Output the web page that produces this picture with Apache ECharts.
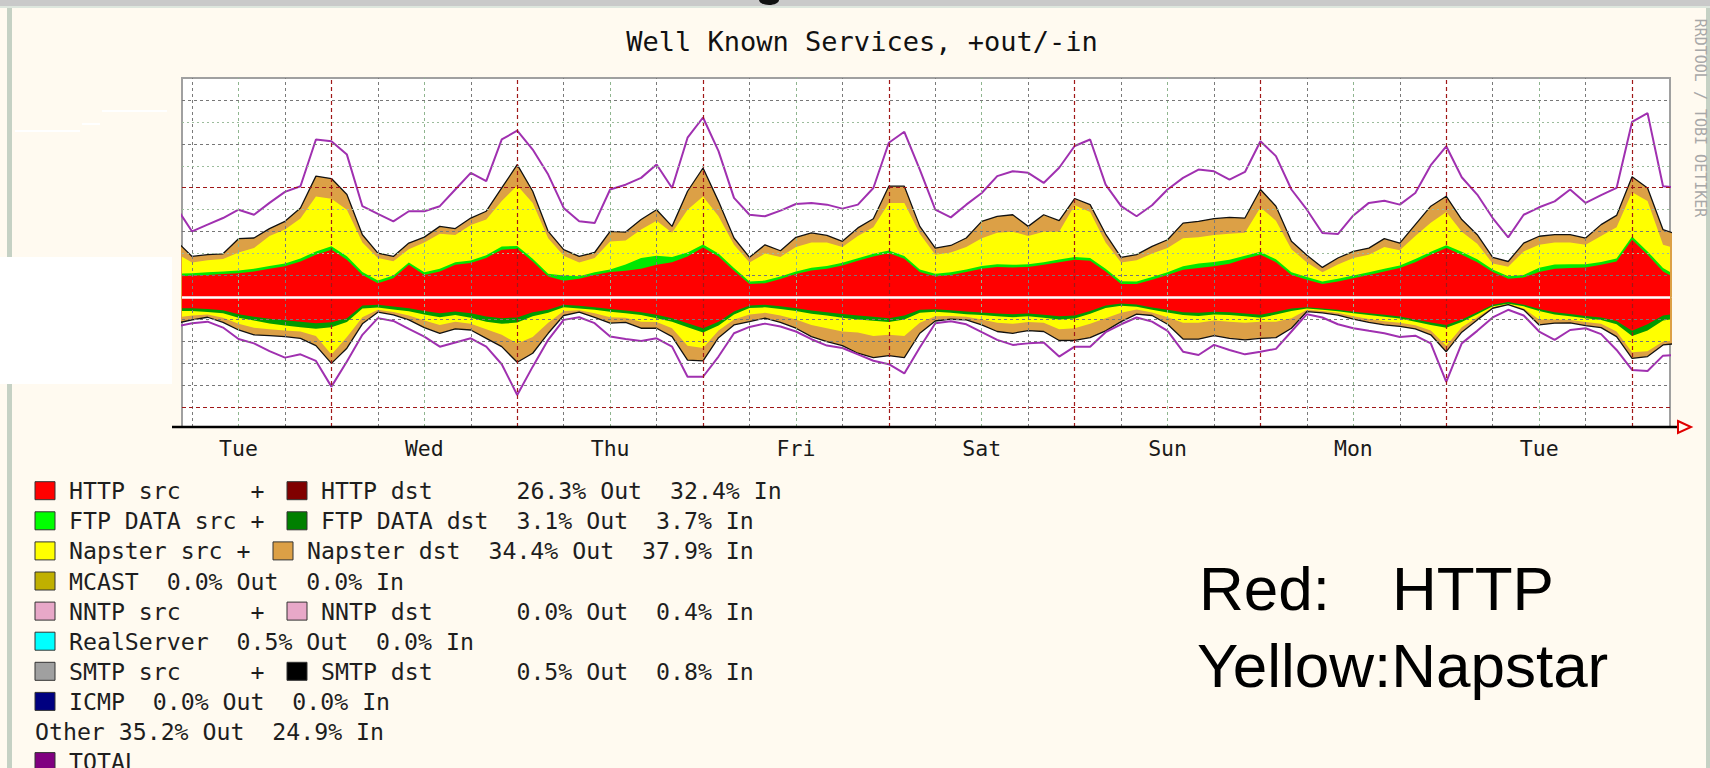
<!DOCTYPE html>
<html><head><meta charset="utf-8">
<script src="https://cdn.jsdelivr.net/npm/echarts@6/dist/echarts.min.js"></script>
<style>html,body{margin:0;padding:0;background:#fffaf0;}#c{width:1710px;height:768px;}</style>
</head><body><div id="c"></div>
<script>
// time axis: hours since Tue 00:00
const hours = [4,6,8,10,12,14,16,18,20,22,24,26,28,30,32,34,36,38,40,42,44,46,48,50,52,
54,56,58,60,62,64,66,68,70,72,74,76,78,80,82,84,86,88,90,92,94,96,98,100,
102,104,106,108,110,112,114,116,118,120,122,124,126,128,130,132,134,136,138,140,142,144,146,148,
150,152,154,156,158,160,162,164,166,168,170,172,174,176,178,180,182,184,186,188,190,192,194,196,198];

// OUT (+) boundaries of the stacked layers
const outRed = [0.96,0.99,1.03,1.07,1.11,1.19,1.31,1.42,1.64,1.95,2.18,1.72,1.03,0.65,0.88,1.49,1.03,1.19,1.49,1.57,1.80,2.18,2.22,1.64,0.96,
0.76,0.85,1.03,1.16,1.22,1.31,1.49,1.61,1.87,2.28,1.87,1.22,0.61,0.65,0.84,1.07,1.23,1.31,1.46,1.67,1.87,2.02,1.77,1.16,
0.96,1.03,1.16,1.31,1.39,1.37,1.39,1.49,1.61,1.72,1.67,1.19,0.62,0.61,0.81,1.03,1.26,1.34,1.42,1.54,1.77,1.95,1.61,1.03,
0.81,0.61,0.73,0.88,1.03,1.19,1.34,1.61,1.95,2.25,1.95,1.61,1.16,0.85,0.91,1.16,1.31,1.34,1.37,1.49,1.64,2.63,1.95,1.19,0.81];
const outFtp = [1.08,1.11,1.15,1.19,1.23,1.31,1.44,1.55,1.78,2.10,2.34,1.88,1.16,0.78,1.00,1.60,1.15,1.31,1.61,1.69,1.93,2.32,2.35,1.77,1.08,
1.00,0.97,1.15,1.28,1.50,1.80,1.90,1.85,2.05,2.42,2.00,1.34,0.73,0.77,0.96,1.19,1.35,1.44,1.58,1.79,1.99,2.14,1.89,1.28,
1.08,1.15,1.28,1.43,1.51,1.49,1.51,1.61,1.73,1.85,1.80,1.31,0.74,0.73,0.93,1.15,1.42,1.55,1.62,1.72,1.90,2.08,1.74,1.15,
0.93,0.73,0.85,1.00,1.15,1.31,1.46,1.75,2.08,2.38,2.08,1.74,1.28,0.97,1.03,1.36,1.50,1.52,1.52,1.62,1.78,2.78,2.10,1.34,0.95];
const outNapSrc = [2.00,1.60,1.70,1.75,2.05,2.25,2.80,3.10,3.60,4.60,4.50,4.00,2.50,1.80,1.65,2.20,2.50,2.90,2.85,3.30,3.55,4.40,5.10,4.30,2.70,
1.90,1.60,1.80,2.55,2.60,3.10,3.50,2.95,4.00,4.60,3.70,2.40,1.60,2.00,1.85,2.30,2.50,2.50,2.30,2.80,3.20,4.30,4.30,2.90,
1.95,2.05,2.30,2.70,2.95,3.00,2.80,3.00,3.00,4.20,3.90,2.50,1.60,1.70,2.00,2.25,2.70,2.75,2.85,2.90,2.95,4.10,3.50,2.20,
1.60,1.15,1.50,1.80,1.95,2.30,2.15,2.80,3.40,3.90,3.00,2.45,1.55,1.40,2.10,2.40,2.50,2.50,2.40,2.80,3.20,4.80,4.40,2.40,2.20];
const outNapDst = [2.56,1.87,1.95,1.99,2.68,2.71,3.14,3.47,4.08,5.53,5.42,4.69,2.86,2.02,1.87,2.48,2.75,3.24,3.14,3.62,3.93,4.99,6.05,4.84,3.01,
2.18,1.87,2.05,3.01,2.98,3.55,4.00,3.24,4.84,5.90,4.38,2.71,1.83,2.40,2.13,2.74,2.94,2.83,2.56,3.17,3.59,5.07,5.07,3.24,
2.25,2.37,2.71,3.47,3.70,3.77,3.24,3.77,3.50,4.51,4.23,2.89,1.83,1.95,2.33,2.63,3.39,3.47,3.59,3.65,3.62,4.92,4.16,2.56,
1.92,1.37,1.80,2.10,2.25,2.68,2.48,3.32,4.16,4.61,3.55,2.86,1.83,1.64,2.48,2.79,2.86,2.86,2.71,3.32,3.74,5.50,4.99,3.09,2.86];
const outTotal = [4.08,3.01,3.32,3.62,4.00,3.77,4.31,4.81,5.07,7.20,7.12,6.51,4.16,3.81,3.47,3.93,3.93,4.16,4.92,5.68,5.30,7.20,7.60,6.74,5.60,
4.08,3.47,3.39,4.92,5.14,5.45,6.06,4.99,7.28,8.20,6.67,4.54,3.77,3.70,3.96,4.26,4.31,4.23,4.05,4.23,4.99,7.05,7.55,5.83,
4.00,3.65,4.23,4.76,5.53,5.75,5.68,5.22,5.91,6.90,7.20,5.14,4.16,3.70,4.20,4.92,5.45,5.83,5.75,5.37,5.72,7.12,6.44,4.92,
4.00,2.94,2.89,3.74,4.31,4.41,4.23,4.76,6.03,6.89,5.48,4.69,3.62,2.74,3.77,4.11,4.38,4.92,4.31,4.66,4.99,8.00,8.40,5.07,4.99];

// IN (-) boundaries
const inRed = [-0.49,-0.49,-0.52,-0.58,-0.76,-0.88,-0.97,-1.04,-1.10,-1.17,-1.13,-0.94,-0.37,-0.33,-0.41,-0.49,-0.61,-0.72,-0.64,-0.72,-0.87,-0.94,-0.91,-0.67,-0.56,
-0.33,-0.38,-0.44,-0.52,-0.59,-0.67,-0.79,-0.94,-1.17,-1.40,-1.10,-0.64,-0.37,-0.33,-0.40,-0.49,-0.59,-0.67,-0.75,-0.82,-0.88,-0.94,-0.82,-0.56,
-0.53,-0.58,-0.64,-0.68,-0.73,-0.76,-0.73,-0.79,-0.85,-0.82,-0.61,-0.37,-0.27,-0.32,-0.46,-0.56,-0.67,-0.70,-0.65,-0.67,-0.73,-0.79,-0.65,-0.50,
-0.45,-0.50,-0.56,-0.65,-0.72,-0.79,-0.87,-1.00,-1.14,-1.25,-1.00,-0.67,-0.33,-0.21,-0.33,-0.52,-0.67,-0.75,-0.84,-0.91,-1.07,-1.52,-1.22,-0.82,-0.72];
const inFtp = [-0.62,-0.62,-0.66,-0.72,-0.92,-1.05,-1.18,-1.28,-1.35,-1.42,-1.36,-1.12,-0.50,-0.46,-0.55,-0.63,-0.77,-0.90,-0.80,-0.92,-1.10,-1.20,-1.14,-0.85,-0.70,
-0.45,-0.50,-0.56,-0.65,-0.72,-0.80,-0.95,-1.10,-1.35,-1.60,-1.28,-0.78,-0.48,-0.45,-0.52,-0.62,-0.74,-0.82,-0.92,-1.00,-1.06,-1.12,-1.00,-0.70,
-0.65,-0.70,-0.76,-0.80,-0.86,-0.90,-0.86,-0.92,-1.00,-0.96,-0.74,-0.48,-0.38,-0.42,-0.56,-0.68,-0.80,-0.84,-0.78,-0.80,-0.86,-0.92,-0.78,-0.62,
-0.50,-0.56,-0.63,-0.72,-0.80,-0.88,-0.96,-1.10,-1.25,-1.38,-1.12,-0.76,-0.40,-0.28,-0.40,-0.62,-0.78,-0.86,-0.95,-1.02,-1.22,-1.75,-1.50,-1.05,-0.95];
const inNapSrc = [-0.90,-0.82,-0.78,-0.92,-1.20,-1.38,-1.45,-1.50,-1.55,-1.75,-2.60,-1.80,-0.90,-0.56,-0.66,-0.82,-1.05,-1.25,-1.10,-1.20,-1.45,-1.70,-2.10,-1.80,-1.15,
-0.62,-0.58,-0.72,-0.90,-0.92,-1.10,-1.12,-1.40,-2.20,-2.30,-1.50,-1.00,-0.78,-0.70,-0.82,-1.00,-1.25,-1.40,-1.55,-1.60,-1.75,-1.70,-1.75,-1.15,
-0.85,-0.84,-0.88,-1.00,-1.15,-1.20,-1.12,-1.15,-1.45,-1.40,-1.20,-0.95,-0.70,-0.55,-0.68,-0.90,-1.15,-1.15,-1.05,-1.10,-1.15,-1.10,-1.10,-0.95,
-0.56,-0.62,-0.70,-0.86,-0.98,-1.08,-1.15,-1.27,-1.50,-2.20,-1.35,-0.90,-0.45,-0.31,-0.50,-1.00,-1.00,-1.02,-1.12,-1.20,-1.55,-2.50,-2.45,-2.00,-1.95];
const inNapDst = [-1.17,-1.02,-0.90,-1.13,-1.48,-1.70,-1.74,-1.78,-1.86,-2.19,-3.00,-2.31,-1.20,-0.67,-0.79,-1.02,-1.37,-1.63,-1.43,-1.48,-1.86,-2.24,-2.95,-2.54,-1.63,
-0.82,-0.67,-0.91,-1.17,-1.13,-1.40,-1.40,-1.78,-2.85,-2.89,-1.83,-1.25,-1.10,-0.94,-1.13,-1.40,-1.78,-2.01,-2.19,-2.54,-2.74,-2.65,-2.74,-1.63,
-1.07,-0.99,-1.02,-1.25,-1.55,-1.63,-1.51,-1.55,-1.96,-1.95,-1.83,-1.52,-1.10,-0.76,-0.82,-1.22,-1.89,-1.90,-1.74,-1.86,-1.93,-1.86,-1.83,-1.40,
-0.64,-0.70,-0.80,-0.99,-1.13,-1.25,-1.32,-1.43,-1.70,-2.47,-1.58,-1.02,-0.49,-0.33,-0.56,-1.25,-1.17,-1.16,-1.28,-1.37,-1.78,-2.77,-2.69,-2.16,-2.09];
const inTotal = [-1.32,-1.17,-1.10,-1.37,-1.89,-2.09,-2.44,-2.74,-2.59,-2.89,-4.06,-2.92,-1.70,-0.94,-1.07,-1.43,-1.78,-2.24,-2.05,-1.86,-2.24,-3.04,-4.44,-3.15,-1.93,
-1.02,-0.90,-1.17,-1.78,-1.89,-1.98,-1.86,-2.24,-3.61,-3.61,-2.69,-1.63,-1.34,-1.19,-1.32,-1.55,-1.90,-2.19,-2.30,-2.59,-2.88,-3.04,-3.46,-2.28,
-1.17,-1.08,-1.22,-1.58,-1.93,-2.16,-2.09,-2.05,-2.69,-2.24,-2.24,-1.58,-1.22,-0.91,-1.10,-1.52,-2.47,-2.62,-2.16,-2.39,-2.59,-2.47,-2.34,-1.55,
-0.76,-0.91,-1.22,-1.40,-1.52,-1.63,-1.80,-1.74,-2.09,-3.84,-2.09,-1.52,-0.91,-0.56,-0.82,-1.55,-1.93,-1.48,-1.40,-1.67,-2.39,-3.30,-3.35,-2.65,-2.62];

// axis ticks / labels
const dayLabels = ['Tue','Wed','Thu','Fri','Sat','Sun','Mon','Tue'];
const noonHours = [12,36,60,84,108,132,156,180];
const midnightHours = [24,48,72,96,120,144,168,192];
const quarterHours = [6,18,30,42,54,66,78,90,102,114,126,138,150,162,174,186];
const redLevels = [-5,5];
const darkLevels = [-4,-3,-2,-1,1,3,7,9];
const lightLevels = [2,4,6,8];

// legend text
const legendRows = [
  ['HTTP src     +','HTTP dst      26.3% Out  32.4% In'],
  ['FTP DATA src +','FTP DATA dst  3.1% Out  3.7% In'],
  ['Napster src +','Napster dst  34.4% Out  37.9% In'],
  ['MCAST  0.0% Out  0.0% In'],
  ['NNTP src     +','NNTP dst      0.0% Out  0.4% In'],
  ['RealServer  0.5% Out  0.0% In'],
  ['SMTP src     +','SMTP dst      0.5% Out  0.8% In'],
  ['ICMP  0.0% Out  0.0% In'],
  ['Other 35.2% Out  24.9% In'],
  ['TOTAL']
];
const legendColors = [['#ff0000','#800000'],['#00ff00','#008000'],['#ffff00','#dca046'],['#c0b000'],
  ['#e8a8c8','#e8a8c8'],['#00ffff'],['#a0a0a0','#000000'],['#000080'],[],['#800080']];

const MONO = '"DejaVu Sans Mono", "Liberation Mono", monospace';
const chart = echarts.init(document.getElementById('c'), null, {renderer:'svg', width:1710, height:768});

function pts(arr){ return hours.map((h,i)=>[h, arr[i]]); }
function area(name, arr, color, edge){
  return {type:'line', name, data:pts(arr), symbol:'none', showSymbol:false, silent:true, z:2,
    lineStyle: edge ? {color:'#111', width:1.3} : {width:0, opacity:0},
    areaStyle:{color, opacity:1}};
}
function totalLine(name, arr){
  return {type:'line', name, data:pts(arr), symbol:'none', showSymbol:false, silent:true, z:4,
    lineStyle:{color:'#a030b0', width:2}};
}

const gridLines = [];
quarterHours.forEach(h=>gridLines.push({xAxis:h, lineStyle:{color:'#7a7a7a', type:[3,3], width:1}}));
noonHours.forEach(h=>gridLines.push({xAxis:h, lineStyle:{color:'#8fb58f', type:[3,3], width:1}}));
midnightHours.forEach(h=>gridLines.push({xAxis:h, lineStyle:{color:'#a01818', type:[4,3], width:1.2}}));
darkLevels.forEach(v=>gridLines.push({yAxis:v, lineStyle:{color:'#777777', type:[3,3], width:1}}));
lightLevels.forEach(v=>gridLines.push({yAxis:v, lineStyle:{color:'#9cbc9c', type:[2,3], width:1}}));
redLevels.forEach(v=>gridLines.push({yAxis:v, lineStyle:{color:'#a01818', type:[4,3], width:1.2}}));
gridLines.push({yAxis:0, lineStyle:{color:'#ffffff', type:'solid', width:2.5}});

const els = [];
// frame / decorations
els.push({type:'rect', shape:{x:0,y:0,width:1710,height:6}, style:{fill:'#c9c9c9'}});
els.push({type:'rect', shape:{x:0,y:6,width:1710,height:2}, style:{fill:'#dde6dd'}});
els.push({type:'rect', shape:{x:7,y:8,width:5,height:249}, style:{fill:'#c5d1c4'}});
els.push({type:'rect', shape:{x:7,y:384,width:5,height:384}, style:{fill:'#c5d1c4'}});
els.push({type:'rect', shape:{x:1706,y:8,width:4,height:760}, style:{fill:'#c5d1c4'}});
els.push({type:'rect', shape:{x:0,y:257,width:172,height:127}, style:{fill:'#ffffff'}});
[[102,110,65],[82,123,18],[15,130,65],[65,323,47],[103,342,67]].forEach(s=>
  els.push({type:'rect', shape:{x:s[0],y:s[1],width:s[2],height:2}, style:{fill:'#ffffff'}}));
els.push({type:'ellipse', shape:{cx:769,cy:0,rx:10,ry:5}, style:{fill:'#111'}});
// title
els.push({type:'text', x:862, y:41, style:{text:'Well Known Services, +out/-in', font:'27px '+MONO, fill:'#111', align:'center', verticalAlign:'middle'}});
// side credit
els.push({type:'text', x:1700, y:118, rotation:-Math.PI/2, style:{text:'RRDTOOL / TOBI OETIKER', font:'15px '+MONO, fill:'#a8a8a8', align:'center', verticalAlign:'middle'}});
// bottom axis + arrow
els.push({type:'line', z:100, shape:{x1:172,y1:427,x2:1679,y2:427}, style:{stroke:'#000', lineWidth:2.5}});
els.push({type:'polygon', z:100, shape:{points:[[1678,421],[1691,427],[1678,433]]}, style:{fill:'none', stroke:'#e00000', lineWidth:2}});
// legend
const CW = 14, X0 = 69, ROW0 = 490.7, ROWH = 30.1;
legendRows.forEach((row,i)=>{
  const y = ROW0 + i*ROWH;
  const cols = legendColors[i];
  let x = X0;
  row.forEach((t,j)=>{
    if (cols[j]) els.push({type:'rect', shape:{x:x-34,y:y-9,width:20,height:18}, style:{fill:cols[j], stroke:'#333', lineWidth:1}});
    els.push({type:'text', x: cols[j] ? x : x-34, y:y, style:{text:t, font:'23.2px '+MONO, fill:'#1e1e1e', verticalAlign:'middle'}});
    x += t.length*CW + 56;
  });
});
// annotation
const SANS = '"Liberation Sans", Arial, sans-serif';
els.push({type:'text', x:1199, y:588, style:{text:'Red:', font:'62px '+SANS, fill:'#000', verticalAlign:'middle'}});
els.push({type:'text', x:1392, y:588, style:{text:'HTTP', font:'62px '+SANS, fill:'#000', verticalAlign:'middle'}});
els.push({type:'text', x:1197, y:665, style:{text:'Yellow:Napstar', font:'62px '+SANS, fill:'#000', verticalAlign:'middle'}});

const option = {
  animation:false,
  backgroundColor:'#fffaf0',
  grid:{left:182, top:78, width:1488, height:349, show:true, backgroundColor:'#ffffff', borderColor:'#a0a0a0', borderWidth:2},
  xAxis:{type:'value', min:4.7, max:196.9, axisLine:{show:false}, axisTick:{show:false}, splitLine:{show:false},
    axisLabel:{customValues:noonHours, formatter:(v)=>{const k=noonHours.indexOf(v); return k>=0?dayLabels[k]:'';},
      color:'#1a1a1a', fontFamily:MONO, fontSize:21.5, margin:10}},
  yAxis:{type:'value', min:-5.9, max:10, show:false},
  series:[
    area('Napster dst out', outNapDst, '#dca046', true),
    area('Napster src out', outNapSrc, '#ffff00', false),
    area('FTP DATA out', outFtp, '#00e800', false),
    area('HTTP out', outRed, '#ff0000', false),
    area('Napster dst in', inNapDst, '#dca046', true),
    area('Napster src in', inNapSrc, '#ffff00', false),
    area('FTP DATA in', inFtp, '#009a00', false),
    area('HTTP in', inRed, '#ff0000', false),
    {type:'line', name:'grid', data:[], z:3, silent:true,
      markLine:{symbol:['none','none'], silent:true, animation:false, label:{show:false}, emphasis:{disabled:true}, data:gridLines}},
    totalLine('TOTAL out', outTotal),
    totalLine('TOTAL in', inTotal)
  ],
  graphic:{elements:els}
};
chart.setOption(option);
</script>
</body></html>
